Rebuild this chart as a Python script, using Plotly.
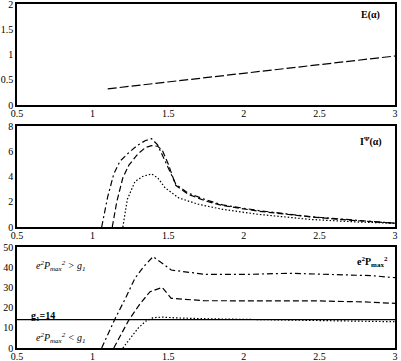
import plotly.graph_objects as go

# E(alpha) - top panel
alpha_e = [1.1, 1.5, 2.0, 2.5, 3.0]
e_vals = [0.32, 0.46, 0.63, 0.80, 0.97]

# I^psi(alpha) - middle panel
alpha_i_dd = [1.06, 1.10, 1.14, 1.18, 1.24, 1.30, 1.35, 1.39, 1.43, 1.48, 1.55, 1.63, 1.75, 1.86, 2.1, 2.44, 2.75, 3.0]
i_dd = [0.0, 2.4, 4.2, 5.2, 5.9, 6.5, 6.85, 7.0, 6.5, 5.2, 3.4, 2.7, 2.15, 1.75, 1.3, 0.82, 0.5, 0.3]
alpha_i_da = [1.13, 1.16, 1.20, 1.24, 1.30, 1.35, 1.39, 1.43, 1.46, 1.50, 1.55, 1.63, 1.75, 1.86, 2.1, 2.44, 2.75, 3.0]
i_da = [0.0, 2.0, 3.9, 4.9, 5.8, 6.3, 6.45, 6.4, 6.1, 5.0, 3.3, 2.6, 2.05, 1.7, 1.25, 0.8, 0.5, 0.3]
alpha_i_dot = [1.20, 1.23, 1.28, 1.33, 1.39, 1.43, 1.48, 1.57, 1.70, 1.86, 2.1, 2.44, 2.75, 3.0]
i_dot = [0.0, 2.2, 3.6, 4.0, 4.2, 3.9, 3.1, 2.3, 1.8, 1.4, 1.0, 0.6, 0.4, 0.3]

# e^2 P_max^2 - bottom panel
alpha_p_dd = [1.06, 1.15, 1.22, 1.28, 1.34, 1.40, 1.46, 1.52, 1.74, 2.0, 2.3, 2.6, 2.85, 3.0]
p_dd = [0.0, 14.7, 25.0, 34.5, 40.5, 45.2, 42.0, 38.6, 36.5, 36.4, 37.0, 36.3, 35.8, 34.8]
alpha_p_da = [1.14, 1.19, 1.24, 1.31, 1.38, 1.46, 1.52, 1.74, 2.0, 2.5, 2.8, 3.0]
p_da = [0.0, 7.0, 13.9, 21.5, 27.9, 30.0, 24.6, 23.4, 23.4, 23.3, 22.8, 22.1]
alpha_p_dot = [1.20, 1.25, 1.30, 1.35, 1.40, 1.46, 1.55, 1.74, 2.0, 2.5, 3.0]
p_dot = [0.0, 5.0, 9.7, 13.2, 15.0, 15.3, 14.9, 14.5, 14.2, 13.6, 13.0]

g1 = 14

x_ticks = [0.5, 1, 1.5, 2, 2.5, 3]
x_labels = ["0.5", "1", "1.5", "2", "2.5", "3"]

serif = "Liberation Serif"
black = "black"

fig = go.Figure()

def line(x, y, dash, xa, ya):
    return go.Scatter(x=x, y=y, mode="lines", xaxis=xa, yaxis=ya,
                      line=dict(color=black, width=1.2, dash=dash),
                      showlegend=False, hoverinfo="skip")

DD = "6px,3px,2px,3px"
DA = "6px,3px"
DOT = "1.5px,2px"

fig.add_trace(line(alpha_e, e_vals, "9px,3px", "x", "y"))

fig.add_trace(line(alpha_i_dd, i_dd, DD, "x2", "y2"))
fig.add_trace(line(alpha_i_da, i_da, DA, "x2", "y2"))
fig.add_trace(line(alpha_i_dot, i_dot, DOT, "x2", "y2"))

fig.add_trace(line(alpha_p_dd, p_dd, DD, "x3", "y3"))
fig.add_trace(line(alpha_p_da, p_da, DA, "x3", "y3"))
fig.add_trace(line(alpha_p_dot, p_dot, DOT, "x3", "y3"))
fig.add_trace(line([0.5, 3], [g1, g1], "solid", "x3", "y3"))

axis_common = dict(showline=True, mirror=True, linecolor=black, linewidth=1.5,
                   showgrid=False, zeroline=False, ticks="", ticklabeloverflow="allow",
                   tickfont=dict(family=serif, size=10, color=black))

domains = {"": [0.7064, 1.0], "2": [0.3517, 0.6453], "3": [0.0, 0.2936]}
yranges = {"": ([0, 2], [0, 0.5, 1, 1.5, 2], ["0", "0.5", "1", "1.5", "2"]),
           "2": ([0, 8], [0, 2, 4, 6, 8], ["0", "2", "4", "6", "8"]),
           "3": ([0, 50], [0, 10, 20, 30, 40, 50], ["0", "10", "20", "30", "40", "50"])}

layout = {}
for k, dom in domains.items():
    yr, yt, yl = yranges[k]
    layout["xaxis" + k] = dict(axis_common, range=[0.5, 3], tickvals=x_ticks, ticktext=x_labels,
                               anchor="y" + k, domain=[0, 1], ticklabelstandoff=-2)
    layout["yaxis" + k] = dict(axis_common, range=yr, tickvals=yt, ticktext=yl,
                               anchor="x" + k, domain=dom)

fig.update_layout(**layout)

ann_font = dict(family=serif, size=10, color=black)
# labels placed in data coordinates of each panel
fig.add_annotation(xref="x", yref="y", x=2.84, y=1.78,
                   text="<b>E(α)</b>", showarrow=False, font=ann_font)
fig.add_annotation(xref="x2", yref="y2", x=2.84, y=6.8,
                   text="<b>I<sup>Ψ</sup>(α)</b>", showarrow=False, font=ann_font)
fig.add_annotation(xref="x3", yref="y3", x=2.85, y=42.6,
                   text="<b>e<sup>2</sup>P<sub>max</sub><sup>2</sup></b>", showarrow=False, font=ann_font)
fig.add_annotation(xref="x3", yref="y3", x=0.79, y=40.6,
                   text="<i>e<sup>2</sup>P<sub>max</sub><sup>2</sup> > g<sub>1</sub></i>",
                   showarrow=False, font=ann_font)
fig.add_annotation(xref="x3", yref="y3", x=0.79, y=5.0,
                   text="<i>e<sup>2</sup>P<sub>max</sub><sup>2</sup> < g<sub>1</sub></i>",
                   showarrow=False, font=ann_font)
fig.add_annotation(xref="x3", yref="y3", x=0.675, y=15.8,
                   text="<b>g<sub>1</sub>=14</b>", showarrow=False, font=ann_font)

fig.update_layout(
    width=401, height=361,
    margin=dict(l=17, r=6, t=4, b=13, autoexpand=False),
    plot_bgcolor="white", paper_bgcolor="white",
    showlegend=False,
)

# page body has a default 8px margin; drop it so the figure fills the window
fig.write_html("out.html", config={"displayModeBar": False},
               post_script="document.body.style.margin='0';")
